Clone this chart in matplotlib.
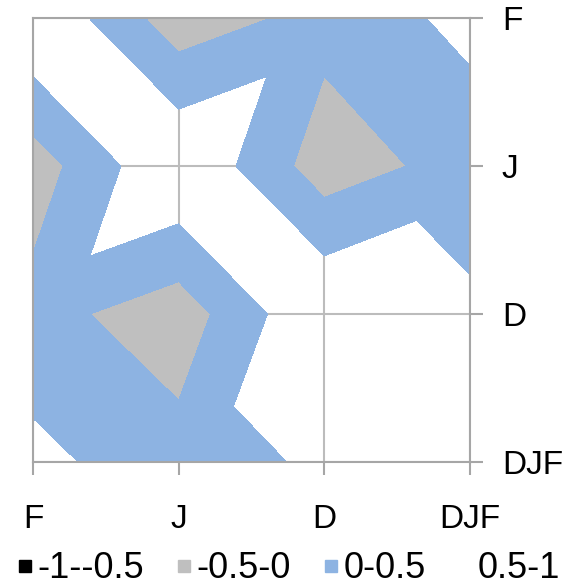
import numpy as np
import matplotlib
matplotlib.use("Agg")
import matplotlib.pyplot as plt
import matplotlib.tri as mtri
from matplotlib.lines import Line2D

plt.rcParams['font.family'] = ['Liberation Sans', 'DejaVu Sans']

# categorias (columnas de izquierda a derecha, filas de arriba a abajo)
categorias = ['F', 'J', 'D', 'DJF']

# valores, una lista por fila
fila_F = [1.00, -0.30, 0.175, 0.64]
fila_J = [-0.26, 1.00, -0.27, 0.21]
fila_D = [0.18, -0.28, 1.00, 0.606]
fila_DJF = [0.635, 0.20, 0.605, 1.00]

niveles = [-1, -0.5, 0, 0.5, 1]
etiquetas = ['-1--0.5', '-0.5-0', '0-0.5', '0.5-1']
colores = ['#000000', '#bfbfbf', '#8db3e2', '#ffffff']

z = np.array([fila_F, fila_J, fila_D, fila_DJF])
n = len(categorias)
xx, yy = np.meshgrid(np.arange(n), np.arange(n))

# cada celda se parte en dos triangulos por la diagonal de mayor suma (como Excel)
triangulos = []
for r in range(n - 1):
    for c in range(n - 1):
        tl, tr = r * n + c, r * n + c + 1
        bl, br = (r + 1) * n + c, (r + 1) * n + c + 1
        if z[r, c] + z[r + 1, c + 1] >= z[r, c + 1] + z[r + 1, c]:
            triangulos += [[tl, tr, br], [tl, br, bl]]
        else:
            triangulos += [[tl, tr, bl], [tr, br, bl]]
tri = mtri.Triangulation(xx.ravel(), yy.ravel(), triangulos)

fig = plt.figure(figsize=(5.76, 5.87), dpi=100)
ax = fig.add_axes([33 / 576, 1 - 462 / 587, 437 / 576, 444 / 587])
ax.set_axisbelow(True)

# la banda 0.5-1 queda sin relleno (blanco)
ax.tricontourf(tri, z.ravel(), levels=niveles[:4], colors=colores[:3])

ax.set_xlim(0, n - 1)
ax.set_ylim(n - 1, 0)
ax.set_xticks(range(n))
ax.set_yticks(range(n))
ax.set_xticklabels(categorias)
ax.set_yticklabels(categorias)
ax.yaxis.tick_right()
ax.grid(True, color='#bcbcbc', linewidth=1.5)
for s in ax.spines.values():
    s.set_color('#a6a6a6')
    s.set_linewidth(1.5)
ax.tick_params(axis='x', direction='out', length=9, width=1.5, color='#a6a6a6',
               pad=21, labelsize=24)
ax.tick_params(axis='y', direction='out', length=9, width=1.5, color='#a6a6a6',
               pad=14, labelsize=24, right=True, left=False)

handles = [Line2D([], [], marker='s', linestyle='none', color=c, markersize=9)
           for c in colores]
fig.legend(handles, etiquetas, loc='center', bbox_to_anchor=(0.5, 18 / 587),
           ncol=4, frameon=False, fontsize=26, handlelength=0.5,
           handletextpad=0.1, columnspacing=0.85, borderaxespad=0, borderpad=0)

fig.savefig('out.png', dpi=100)
